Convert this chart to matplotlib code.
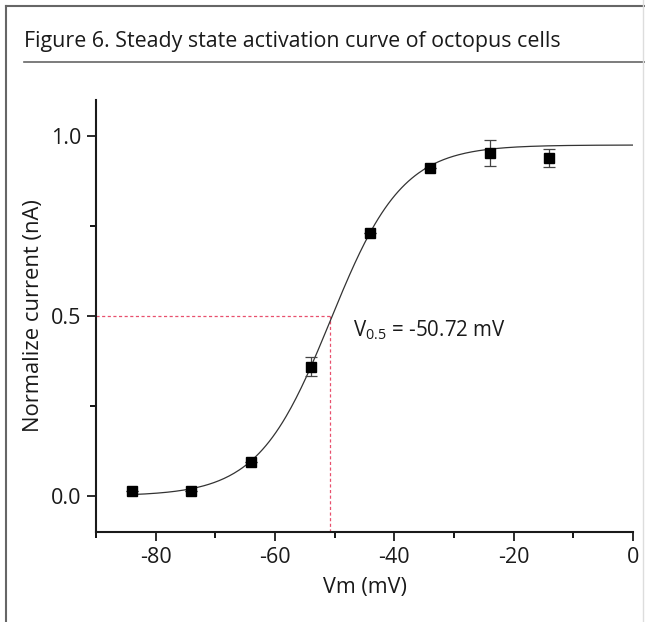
import numpy as np
import matplotlib
matplotlib.use("Agg")
import matplotlib.pyplot as plt
from matplotlib.lines import Line2D
from matplotlib.ticker import MultipleLocator

plt.rcParams["font.family"] = ["Open Sans", "DejaVu Sans"]
plt.rcParams["mathtext.fontset"] = "custom"
plt.rcParams["mathtext.rm"] = "Open Sans"
plt.rcParams["mathtext.it"] = "Open Sans:italic"
plt.rcParams["mathtext.default"] = "regular"
plt.rcParams["axes.unicode_minus"] = False

# 数据
vm = [-84, -74, -64, -54, -44, -34, -24, -14]
current = [0.014, 0.015, 0.095, 0.359, 0.731, 0.910, 0.952, 0.939]
err = [0.0, 0.0, 0.0, 0.026, 0.0, 0.0, 0.036, 0.026]

# Boltzmann 拟合参数
v_half = -50.72
slope_k = 6.05
top = 0.975
bottom = 0.0

title = "Figure 6. Steady state activation curve of octopus cells"
x_label = "Vm (mV)"
y_label = "Normalize current (nA)"
x_ticks = [-80, -60, -40, -20, 0]
y_ticks = [0.0, 0.5, 1.0]

fig = plt.figure(figsize=(6.45, 6.22), dpi=100)
ax = fig.add_axes([96 / 645, 1 - 532 / 622, (633 - 96) / 645, (532 - 100) / 622])

# 拟合曲线
v_fit = np.linspace(vm[0], 0, 300)
i_fit = bottom + (top - bottom) / (1 + np.exp(-(v_fit - v_half) / slope_k))
ax.plot(v_fit, i_fit, color="#333333", lw=0.9, zorder=2)

# 数据点 + 误差棒
ax.errorbar(vm, current, yerr=err, fmt="s", color="black", ms=7.8,
            ecolor="#444444", elinewidth=0.9, capsize=4.5, capthick=0.9, zorder=3)

# V0.5 参考虚线
red = "#e8506e"
ax.plot([-90, v_half], [0.5, 0.5], color=red, lw=0.9, ls=(0, (2.5, 2)), zorder=1)
ax.plot([v_half, v_half], [-0.1, 0.5], color=red, lw=0.9, ls=(0, (2.5, 2)), zorder=1)

ax.text(-47.0, 0.444, r"V$_{0.5}$ = -50.72 mV", fontsize=14.8,
        va="baseline", ha="left", color="#1a1a1a")

ax.set_xlim(-90, 0)
ax.set_ylim(-0.1, 1.1)
ax.set_xticks(x_ticks)
ax.set_yticks(y_ticks)
ax.set_yticklabels([f"{t:.1f}" for t in y_ticks])
ax.xaxis.set_minor_locator(MultipleLocator(10))
ax.yaxis.set_minor_locator(MultipleLocator(0.25))
ax.tick_params(which="major", length=6.5, width=1.3, labelsize=15.5, colors="#1a1a1a", pad=4)
ax.tick_params(which="minor", length=4, width=1.3)
for s in ["top", "right"]:
    ax.spines[s].set_visible(False)
for s in ["left", "bottom"]:
    ax.spines[s].set_linewidth(1.5)
    ax.spines[s].set_color("#1a1a1a")

ax.set_xlabel(x_label, fontsize=15.5, color="#1a1a1a", labelpad=7)
ax.set_ylabel(y_label, fontsize=15.8, color="#1a1a1a", labelpad=5)

# 外框与标题
fig.add_artist(Line2D([6 / 645, 1], [1 - 6 / 622, 1 - 6 / 622], color="#666666", lw=1.5))
fig.add_artist(Line2D([6 / 645, 6 / 645], [0, 1 - 6 / 622], color="#666666", lw=1.5))
fig.add_artist(Line2D([24 / 645, 1], [1 - 62 / 622, 1 - 62 / 622], color="#666666", lw=1.2))
fig.add_artist(Line2D([643 / 645, 643 / 645], [0, 1], color="#dddddd", lw=1.0))
fig.text(24 / 645, 1 - 47 / 622, title, fontsize=15.4, color="#1a1a1a",
         ha="left", va="baseline")

fig.savefig("out.png", dpi=100)
